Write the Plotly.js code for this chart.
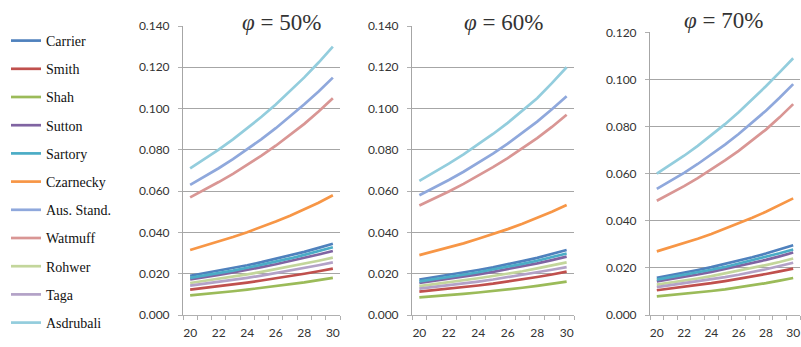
<!DOCTYPE html>
<html>
<head>
<meta charset="utf-8">
<script src="https://cdn.plot.ly/plotly-3.0.1.min.js"></script>
<style>html,body{margin:0;padding:0;background:#fff}#chart{width:801px;height:347px}</style>
</head>
<body>
<div id="chart"></div>
<script>
const temps = [20, 21, 22, 23, 24, 25, 26, 27, 28, 29, 30];
const seriesNames = ["Carrier", "Smith", "Shah", "Sutton", "Sartory", "Czarnecky", "Aus. Stand.", "Watmuff", "Rohwer", "Taga", "Asdrubali"];
const panelTitles = ["50%", "60%", "70%"];
const xTickVals = [20, 22, 24, 26, 28, 30];

// φ = 50%
const carrier50   = [0.0190, 0.0202, 0.0214, 0.0227, 0.0241, 0.0256, 0.0272, 0.0288, 0.0306, 0.0325, 0.0345];
const smith50     = [0.0123, 0.0131, 0.0139, 0.0148, 0.0157, 0.0167, 0.0177, 0.0188, 0.0200, 0.0212, 0.0225];
const shah50      = [0.0095, 0.0101, 0.0108, 0.0115, 0.0123, 0.0131, 0.0139, 0.0148, 0.0158, 0.0169, 0.0180];
const sutton50    = [0.0172, 0.0182, 0.0194, 0.0206, 0.0218, 0.0232, 0.0246, 0.0261, 0.0276, 0.0293, 0.0310];
const sartory50   = [0.0180, 0.0191, 0.0203, 0.0215, 0.0229, 0.0243, 0.0258, 0.0274, 0.0291, 0.0309, 0.0328];
const czarnecky50 = [0.0315, 0.0335, 0.0356, 0.0378, 0.0401, 0.0426, 0.0453, 0.0481, 0.0511, 0.0544, 0.0580];
const ausStand50  = [0.0630, 0.0669, 0.0711, 0.0755, 0.0802, 0.0852, 0.0905, 0.0961, 0.1021, 0.1083, 0.1150];
const watmuff50   = [0.0570, 0.0606, 0.0644, 0.0684, 0.0727, 0.0772, 0.0820, 0.0872, 0.0926, 0.0986, 0.1050];
const rohwer50    = [0.0155, 0.0165, 0.0175, 0.0186, 0.0197, 0.0209, 0.0222, 0.0235, 0.0249, 0.0263, 0.0278];
const taga50      = [0.0142, 0.0151, 0.0160, 0.0170, 0.0180, 0.0191, 0.0203, 0.0215, 0.0228, 0.0241, 0.0255];
const asdrubali50 = [0.0710, 0.0754, 0.0801, 0.0851, 0.0904, 0.0960, 0.1020, 0.1084, 0.1151, 0.1223, 0.1300];

// φ = 60%
const carrier60   = [0.0172, 0.0183, 0.0194, 0.0206, 0.0218, 0.0231, 0.0245, 0.0261, 0.0277, 0.0295, 0.0315];
const smith60     = [0.0113, 0.0120, 0.0127, 0.0135, 0.0143, 0.0152, 0.0162, 0.0172, 0.0184, 0.0196, 0.0210];
const shah60      = [0.0085, 0.0090, 0.0096, 0.0102, 0.0109, 0.0116, 0.0124, 0.0132, 0.0141, 0.0151, 0.0162];
const sutton60    = [0.0155, 0.0165, 0.0175, 0.0186, 0.0197, 0.0209, 0.0222, 0.0236, 0.0250, 0.0266, 0.0283];
const sartory60   = [0.0163, 0.0173, 0.0184, 0.0195, 0.0207, 0.0220, 0.0233, 0.0248, 0.0263, 0.0280, 0.0298];
const czarnecky60 = [0.0290, 0.0308, 0.0327, 0.0347, 0.0369, 0.0392, 0.0416, 0.0442, 0.0470, 0.0500, 0.0533];
const ausStand60  = [0.0580, 0.0616, 0.0654, 0.0694, 0.0737, 0.0782, 0.0830, 0.0882, 0.0937, 0.0997, 0.1060];
const watmuff60   = [0.0530, 0.0563, 0.0598, 0.0635, 0.0674, 0.0716, 0.0760, 0.0807, 0.0857, 0.0911, 0.0970];
const rohwer60    = [0.0140, 0.0149, 0.0158, 0.0168, 0.0178, 0.0189, 0.0200, 0.0212, 0.0226, 0.0240, 0.0255];
const taga60      = [0.0128, 0.0136, 0.0144, 0.0153, 0.0162, 0.0172, 0.0183, 0.0194, 0.0206, 0.0219, 0.0232];
const asdrubali60 = [0.0650, 0.0690, 0.0733, 0.0778, 0.0826, 0.0877, 0.0931, 0.0989, 0.1050, 0.1123, 0.1200];

// φ = 70%
const carrier70   = [0.0158, 0.0168, 0.0179, 0.0191, 0.0203, 0.0216, 0.0231, 0.0245, 0.0261, 0.0278, 0.0296];
const smith70     = [0.0105, 0.0112, 0.0119, 0.0127, 0.0135, 0.0144, 0.0153, 0.0163, 0.0174, 0.0185, 0.0197];
const shah70      = [0.0079, 0.0084, 0.0090, 0.0096, 0.0102, 0.0109, 0.0117, 0.0125, 0.0135, 0.0146, 0.0157];
const sutton70    = [0.0143, 0.0152, 0.0162, 0.0172, 0.0183, 0.0195, 0.0207, 0.0220, 0.0234, 0.0249, 0.0265];
const sartory70   = [0.0150, 0.0160, 0.0170, 0.0181, 0.0192, 0.0204, 0.0218, 0.0231, 0.0246, 0.0262, 0.0278];
const czarnecky70 = [0.0270, 0.0287, 0.0305, 0.0324, 0.0344, 0.0366, 0.0388, 0.0413, 0.0438, 0.0466, 0.0495];
const ausStand70  = [0.0535, 0.0568, 0.0603, 0.0641, 0.0681, 0.0723, 0.0768, 0.0816, 0.0867, 0.0922, 0.0980];
const watmuff70   = [0.0485, 0.0515, 0.0547, 0.0581, 0.0617, 0.0656, 0.0697, 0.0740, 0.0787, 0.0839, 0.0895];
const rohwer70    = [0.0129, 0.0137, 0.0146, 0.0155, 0.0165, 0.0176, 0.0187, 0.0199, 0.0212, 0.0225, 0.0240];
const taga70      = [0.0118, 0.0126, 0.0134, 0.0142, 0.0151, 0.0161, 0.0171, 0.0182, 0.0194, 0.0208, 0.0222];
const asdrubali70 = [0.0600, 0.0637, 0.0676, 0.0718, 0.0763, 0.0810, 0.0861, 0.0914, 0.0971, 0.1030, 0.1090];

const panels = [
  [carrier50, smith50, shah50, sutton50, sartory50, czarnecky50, ausStand50, watmuff50, rohwer50, taga50, asdrubali50],
  [carrier60, smith60, shah60, sutton60, sartory60, czarnecky60, ausStand60, watmuff60, rohwer60, taga60, asdrubali60],
  [carrier70, smith70, shah70, sutton70, sartory70, czarnecky70, ausStand70, watmuff70, rohwer70, taga70, asdrubali70]
];

// styles
const colors = ["#4F81BD", "#C0504D", "#9BBB59", "#8064A2", "#4BACC6", "#F79646", "#8FA8DC", "#D99694", "#C3D69B", "#B3A2C7", "#93CDDD"];

const traces = [];
panels.forEach((panel, p) => {
  panel.forEach((vals, i) => {
    traces.push({
      type: "scatter", mode: "lines",
      x: temps, y: vals,
      name: seriesNames[i],
      legendgroup: seriesNames[i],
      showlegend: p === 0,
      xaxis: p === 0 ? "x" : "x" + (p + 1),
      yaxis: p === 0 ? "y" : "y" + (p + 1),
      line: { color: colors[i], width: 2.7 },
      hovertemplate: seriesNames[i] + ": %{y:.4f}<extra></extra>"
    });
  });
});

const W = 801, H = 347;
const tickFont = { family: "Lato, Open Sans, sans-serif", size: 12, color: "#333" };
const serif = "Liberation Serif";
function xAxis(x0, x1, anchor) {
  return {
    domain: [x0 / W, x1 / W], anchor: anchor, range: [19.5, 30.5],
    tickvals: xTickVals, ticks: "outside", ticklen: 7, tickcolor: "rgba(0,0,0,0)",
    tickfont: tickFont, showgrid: false, zeroline: false,
    showline: true, linecolor: "#b0b0b0", linewidth: 1,
    minor: { tick0: 19.5, dtick: 1, ticks: "outside", ticklen: 4, tickcolor: "#b0b0b0", showgrid: false }
  };
}
function yAxis(yTopPx, yMax, anchor) {
  return {
    domain: [1 - 315 / H, 1 - yTopPx / H], anchor: anchor, range: [0, yMax],
    dtick: 0.02, tickformat: ".3f", ticks: "outside", ticklen: 4, tickcolor: "#b0b0b0",
    ticklabelstandoff: 6,
    tickfont: tickFont, showgrid: true, gridcolor: "#a6a6a6", gridwidth: 1, zeroline: false,
    showline: true, linecolor: "#a6a6a6", linewidth: 1
  };
}

const titleFont = { family: serif, size: 23, color: "#333" };
const layout = {
  width: W, height: H,
  margin: { l: 0, r: 0, t: 0, b: 0 },
  font: { family: serif, size: 14, color: "#222" },
  paper_bgcolor: "#fff", plot_bgcolor: "#fff",
  showlegend: true,
  legend: {
    x: 6 / W, y: 1 - 25 / H, xanchor: "left", yanchor: "top",
    font: { family: serif, size: 14, color: "#111" },
    tracegroupgap: 7, bgcolor: "rgba(0,0,0,0)", borderwidth: 0
  },
  xaxis: xAxis(183, 340, "y"),
  yaxis: yAxis(26, 0.14, "x"),
  xaxis2: xAxis(412, 574, "y2"),
  yaxis2: yAxis(26, 0.14, "x2"),
  xaxis3: xAxis(650, 800, "y3"),
  yaxis3: yAxis(32.3, 0.12, "x3"),
  annotations: [
    { text: "<i>φ</i> = " + panelTitles[0], x: 281 / W, y: 1 - 22 / H },
    { text: "<i>φ</i> = " + panelTitles[1], x: 503 / W, y: 1 - 22 / H },
    { text: "<i>φ</i> = " + panelTitles[2], x: 723 / W, y: 1 - 20 / H }
  ].map(a => Object.assign(a, {
    xref: "paper", yref: "paper", xanchor: "center", yanchor: "middle",
    showarrow: false, font: titleFont, bgcolor: "#fff", borderpad: 0
  }))
};

Plotly.newPlot("chart", traces, layout, { displayModeBar: false });
</script>
</body>
</html>
